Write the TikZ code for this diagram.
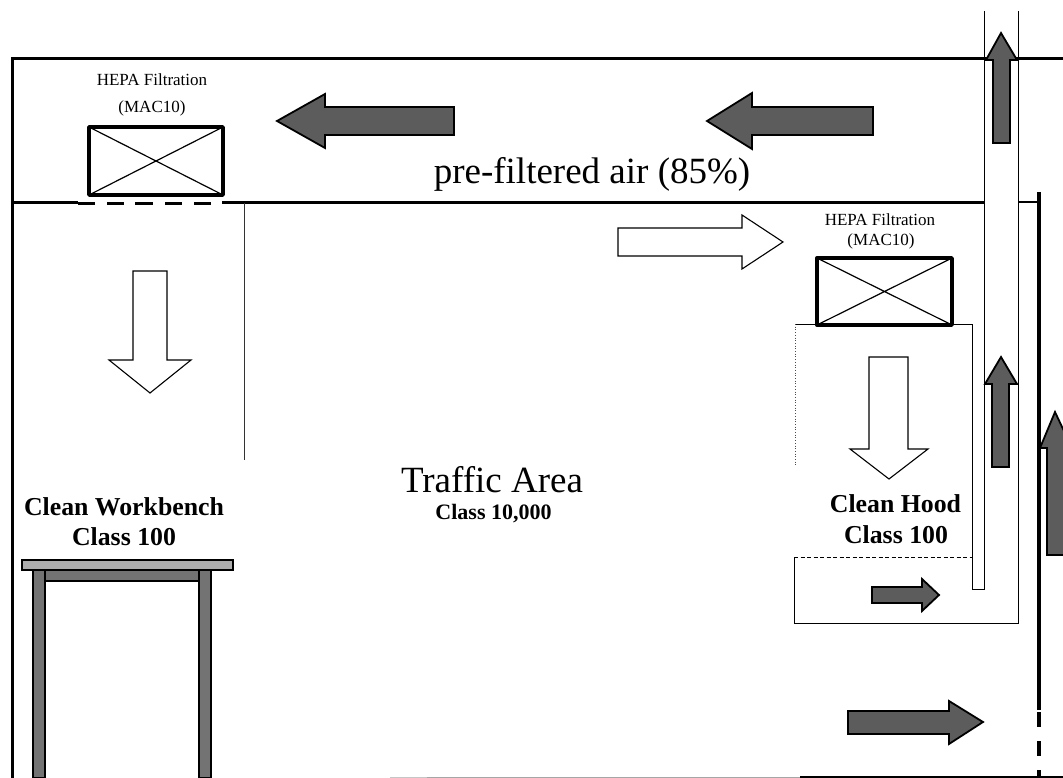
\documentclass[tikz,border=0pt]{standalone}
\usepackage{fontspec}
\setmainfont{Liberation Serif}
\definecolor{darkfill}{gray}{0.36}
\definecolor{midfill}{gray}{0.45}
\definecolor{lightfill}{gray}{0.68}
\tikzset{
  wall/.style={line width=3pt,line cap=butt},
  thin wall/.style={line width=1pt},
  hair/.style={line width=.7pt,black!70},
  filter/.style={line width=3.4pt,line join=round},
  cross/.style={line width=1.2pt},
  darrow/.style={draw=black,line width=1.8pt,fill=darkfill,line join=miter},
  warrow/.style={draw=black,line width=1.1pt,fill=white,line join=miter},
  bench/.style={draw=black,line width=1.4pt},
  small/.style={font=\fontsize{17}{20}\selectfont,inner sep=0pt},
  big/.style={font=\fontsize{37}{42}\selectfont,inner sep=0pt},
  boldlab/.style={font=\fontsize{25.8}{30}\selectfont\bfseries,inner sep=0pt},
}
\begin{document}
\begin{tikzpicture}[x=1pt,y=-1pt]
\useasboundingbox (0,0) rectangle (1063,778);
% outer walls
\draw[wall] (1063,59) -- (12,59) -- (12,778);
\draw[wall] (12,203) -- (78,203);
\draw[wall] (78,204) -- (95,204);
\draw[wall] (107,204) -- (124,204);
\draw[wall] (135,204) -- (153,204);
\draw[wall] (165,204) -- (182,204);
\draw[wall] (194,204) -- (211,204);
\draw[wall] (222,203) -- (984,203);
\draw[line width=2pt] (1018,202) -- (1039,202);
\draw[line width=3.6pt] (1039,192) -- (1039,710);
\draw[line width=3.6pt] (1039,712) -- (1039,727);
\draw[line width=3.6pt] (1039,741) -- (1039,756);
\draw[line width=3.6pt] (1039,770) -- (1039,778);
\draw[line width=1.2pt,gray!45] (390,777.3) -- (427,777.3);
\draw[line width=1.2pt,gray!70] (427,777.3) -- (800,777.3);
\draw[line width=1.6pt] (800,777) -- (1063,777);
\draw[line width=.9pt,black!80] (244,203) -- (244,460);
% duct and hood
\draw[thin wall] (984,11) -- (984,589) -- (972,589) -- (972,324) -- (795,324);
\draw[hair,dotted] (795,324) -- (795,467);
\draw[thin wall] (1018,11) -- (1018,623) -- (794,623) -- (794,557);
\draw[thin wall,dashed,dash pattern=on 4pt off 2.5pt] (794,557) -- (972,557);
% filters
\draw[filter] (89,127) rectangle (223,195);
\draw[cross] (89,127) -- (223,195) (223,127) -- (89,195);
\draw[filter] (817,258) rectangle (952,325);
\draw[cross] (817,258) -- (952,325) (952,258) -- (817,325);
% dark arrows
\draw[darrow] (277,121) -- (325,94) -- (325,107) -- (454,107) -- (454,135) -- (325,135) -- (325,148) -- cycle;
\draw[darrow] (707,121) -- (752,93) -- (752,107) -- (873,107) -- (873,135) -- (752,135) -- (752,149) -- cycle;
\draw[darrow] (1001,33) -- (1017,60) -- (1010,60) -- (1010,143) -- (993,143) -- (993,60) -- (986,60) -- cycle;
\draw[darrow] (1001,357) -- (1017,384) -- (1009,384) -- (1009,467) -- (992,467) -- (992,384) -- (985,384) -- cycle;
\draw[darrow] (1055,412) -- (1072,448) -- (1064,448) -- (1064,555) -- (1047,555) -- (1047,448) -- (1040,448) -- cycle;
\draw[darrow] (939,595) -- (922,579) -- (922,587) -- (872,587) -- (872,603) -- (922,603) -- (922,611) -- cycle;
\draw[darrow] (983,722) -- (949,701) -- (949,711) -- (848,711) -- (848,734) -- (949,734) -- (949,744) -- cycle;
% white arrows
\draw[warrow] (783,242) -- (742,215) -- (742,228) -- (618,228) -- (618,256) -- (742,256) -- (742,269) -- cycle;
\draw[warrow] (150,393) -- (191,360) -- (167,360) -- (167,271) -- (133,271) -- (133,360) -- (109,360) -- cycle;
\draw[warrow] (889,479) -- (928,449) -- (908,449) -- (908,357) -- (869,357) -- (869,449) -- (850,449) -- cycle;
% workbench
\draw[bench,fill=midfill] (45,570) rectangle (199,581);
\draw[bench,fill=midfill] (33,570) rectangle (45,778);
\draw[bench,fill=midfill] (199,570) rectangle (211,778);
\draw[bench,fill=lightfill] (22,560) rectangle (233,570);
% text
\node[small] (hepaA) at (152,80) {HEPA Filtration};
\node[small] (macA) at (152,108.5) {(MAC10)};
\node[small] (hepaB) at (880,220) {HEPA Filtration};
\node[small] (macB) at (881,241) {(MAC10)};
\node[big] (prefilt) at (592,174.5) {pre-filtered air (85\%)};
\node[big] (traffic) at (492,479.5) {Traffic Area};
\node[font=\fontsize{22}{26}\selectfont\bfseries,inner sep=0pt] (cls) at (493.5,513.5) {Class 10,000};
\node[boldlab] (wb) at (124,507) {Clean Workbench};
\node[boldlab] (wbc) at (124,537) {Class 100};
\node[boldlab] (hood) at (895.5,504) {Clean Hood};
\node[boldlab] (hoodc) at (896,534.5) {Class 100};
\end{tikzpicture}
\end{document}
